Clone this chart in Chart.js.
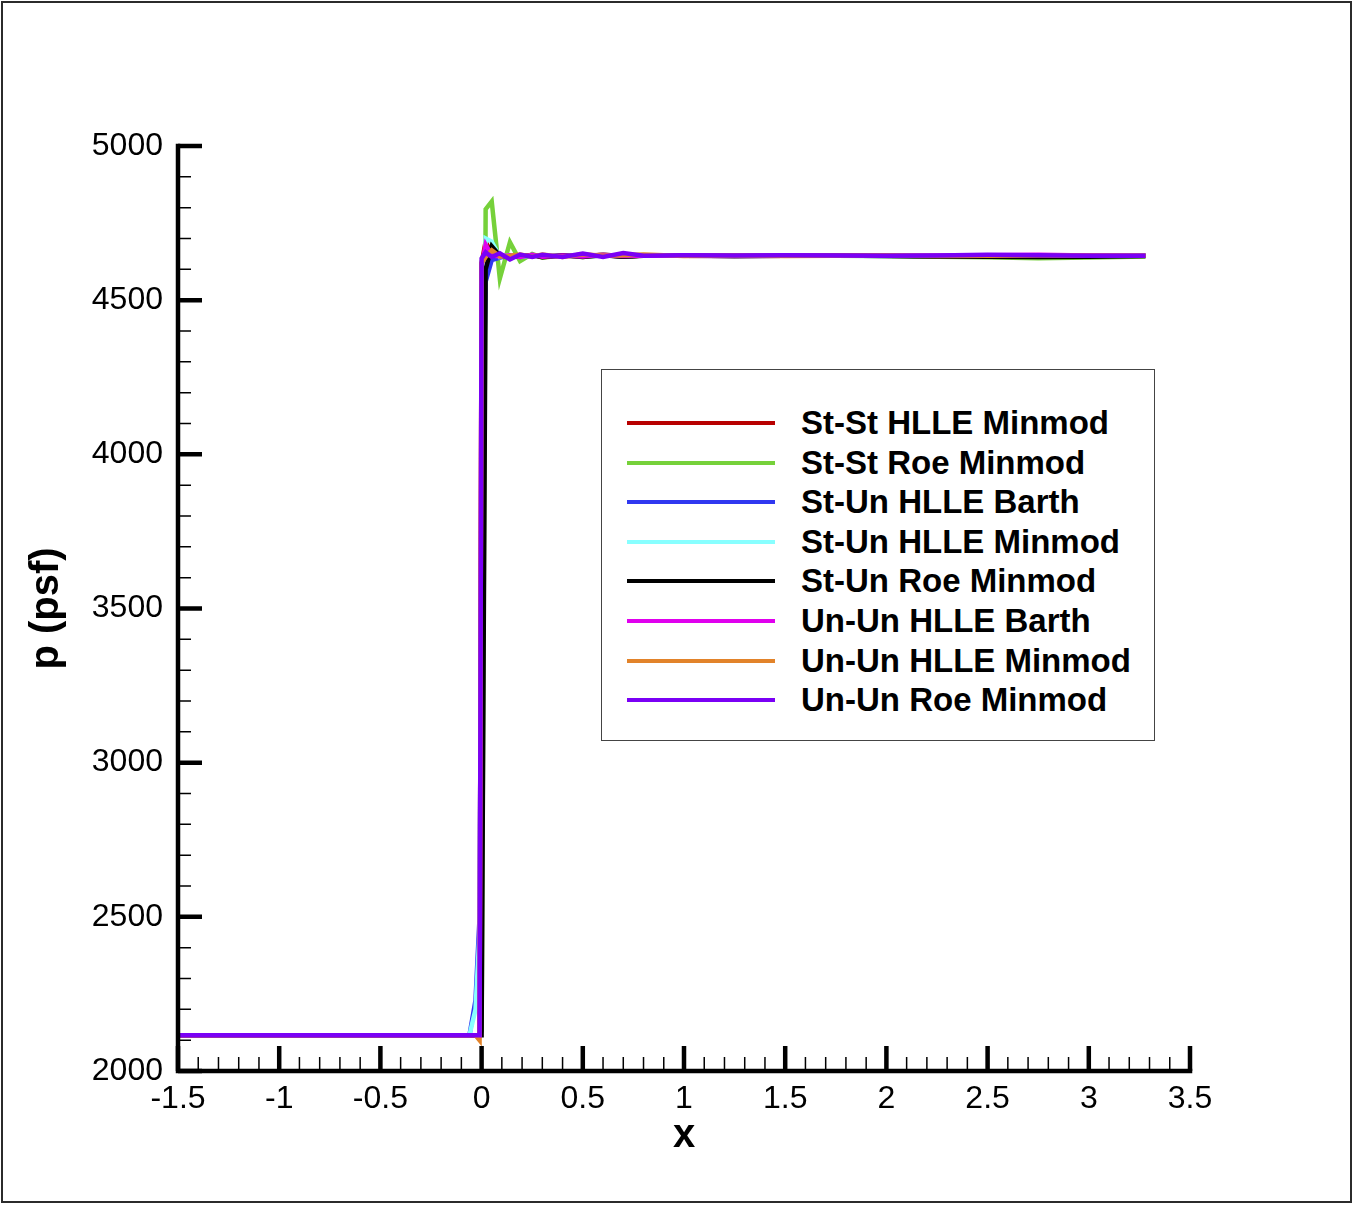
<!DOCTYPE html>
<html>
<head>
<meta charset="utf-8">
<title>p (psf) vs x</title>
<script src="https://cdn.jsdelivr.net/npm/chart.js@4.4.1/dist/chart.umd.min.js"></script>
<style>
  html, body { margin: 0; padding: 0; background: #fff; }
  #lienzo { position: relative; width: 1355px; height: 1205px; }
  #marco {
    position: absolute; left: 1px; top: 1px; width: 1351px; height: 1202px;
    box-sizing: border-box; border: 2px solid #2b2b2b; pointer-events: none;
  }
  #leyenda {
    position: absolute; left: 601px; top: 369px; width: 554px; height: 372px;
    box-sizing: border-box; border: 1px solid #444; background: #fff;
    font-family: "Liberation Sans", Arial, Helvetica, sans-serif;
  }
  .fila { position: absolute; left: 0; height: 40px; display: flex; align-items: center; }
  .trazo { position: absolute; left: 25px; width: 148px; height: 4px; }
  .texto { position: absolute; left: 199px; font-weight: bold; font-size: 33px; color: #000; white-space: nowrap; }
</style>
</head>
<body>
<div id="lienzo">
  <canvas id="grafico" width="1355" height="1205"></canvas>
  <div id="leyenda"></div>
  <div id="marco"></div>
</div>
<script>
// ── Datos ─────────────────────────────────────
const posX = [-1.5, -0.06, -0.03, -0.01, 0, 0.02, 0.05, 0.09, 0.14, 0.19, 0.25, 0.3, 0.4, 0.5,
              0.6, 0.7, 0.8, 1.0, 1.25, 1.5, 1.75, 2.0, 2.25, 2.5, 2.75, 3.0, 3.28]

const stStHlleMinmod = [2116,2116,2116,2116,4620,4690,4648,4640,4645,4642,4646,4641,4645,4643,4647,4641,4645,4644,4643,4644,4645,4644,4643,4645,4646,4644,4644]
const stStRoeMinmod  = [2116,2116,2116,2116,2130,4795,4820,4570,4688,4627,4650,4638,4646,4640,4648,4642,4645,4646,4644,4645,4644,4643,4641,4639,4636,4638,4642]
const stUnHlleBarth  = [2116,2116,2230,2500,3800,4560,4630,4638,4645,4640,4646,4641,4645,4643,4646,4642,4645,4644,4643,4644,4645,4644,4643,4644,4645,4644,4644]
const stUnHlleMinmod = [2116,2116,2200,2450,3900,4700,4690,4640,4646,4641,4645,4642,4646,4642,4645,4643,4645,4644,4644,4645,4644,4643,4644,4645,4644,4643,4644]
const stUnRoeMinmod  = [2116,2116,2116,2116,2116,4600,4675,4644,4640,4643,4646,4639,4646,4640,4646,4641,4644,4645,4643,4644,4645,4643,4642,4641,4640,4641,4643]
const unUnHlleBarth  = [2116,2116,2116,2116,4610,4680,4645,4642,4646,4640,4647,4641,4645,4642,4647,4643,4645,4644,4644,4645,4644,4644,4645,4646,4647,4645,4644]
const unUnHlleMinmod = [2116,2116,2116,2100,4620,4640,4662,4642,4644,4648,4641,4648,4640,4649,4644,4646,4648,4643,4645,4643,4644,4645,4643,4644,4645,4644,4644]
const unUnRoeMinmod  = [2116,2116,2116,2116,4635,4655,4640,4652,4632,4648,4640,4647,4640,4651,4640,4653,4644,4646,4645,4646,4645,4644,4645,4647,4646,4644,4644]

const nombresSeries = ['St-St HLLE Minmod', 'St-St Roe Minmod', 'St-Un HLLE Barth', 'St-Un HLLE Minmod',
                       'St-Un Roe Minmod', 'Un-Un HLLE Barth', 'Un-Un HLLE Minmod', 'Un-Un Roe Minmod']
const valoresSeries = [stStHlleMinmod, stStRoeMinmod, stUnHlleBarth, stUnHlleMinmod,
                       stUnRoeMinmod, unUnHlleBarth, unUnHlleMinmod, unUnRoeMinmod]
const coloresSeries = ['#b80000', '#76d13a', '#3038f0', '#88ffff',
                       '#000000', '#e000ee', '#e2832a', '#7a00f5']

const ticksX = [-1.5, -1, -0.5, 0, 0.5, 1, 1.5, 2, 2.5, 3, 3.5]
const ticksY = [2000, 2500, 3000, 3500, 4000, 4500, 5000]
const PASO_MENOR_X = 0.1
const PASO_MENOR_Y = 100

const FUENTE = '"Liberation Sans", Arial, Helvetica, sans-serif'

// ── Ejes estilo Tecplot (ticks hacia adentro) ─
const ejesTecplot = {
  id: 'ejesTecplot',
  afterDatasetsDraw(chart) {
    const { ctx, chartArea: a, scales: { x, y } } = chart
    ctx.save()
    ctx.strokeStyle = '#000'
    ctx.lineCap = 'butt'

    // menores
    ctx.lineWidth = 1.5
    ctx.beginPath()
    for (let v = x.min; v <= x.max + 1e-9; v += PASO_MENOR_X) {
      const px = x.getPixelForValue(v)
      ctx.moveTo(px, a.bottom); ctx.lineTo(px, a.bottom - 14)
    }
    for (let v = y.min; v <= y.max + 1e-9; v += PASO_MENOR_Y) {
      const py = y.getPixelForValue(v)
      ctx.moveTo(a.left, py); ctx.lineTo(a.left + 13, py)
    }
    ctx.stroke()

    // mayores
    ctx.lineWidth = 4.5
    ctx.beginPath()
    ticksX.forEach(v => {
      const px = x.getPixelForValue(v)
      ctx.moveTo(px, a.bottom); ctx.lineTo(px, a.bottom - 25)
    })
    ticksY.forEach(v => {
      const py = y.getPixelForValue(v)
      ctx.moveTo(a.left, py); ctx.lineTo(a.left + 24, py)
    })
    ctx.stroke()

    // líneas de eje
    ctx.lineCap = 'square'
    ctx.beginPath()
    ctx.moveTo(a.left, a.top)
    ctx.lineTo(a.left, a.bottom)
    ctx.lineTo(a.right, a.bottom)
    ctx.stroke()
    ctx.restore()
  }
}

// ── Gráfico ───────────────────────────────────
const datasets = nombresSeries.map((nombre, i) => ({
  label: nombre,
  data: posX.map((vx, j) => ({ x: vx, y: valoresSeries[i][j] })),
  borderColor: coloresSeries[i],
  backgroundColor: coloresSeries[i],
  borderWidth: 4.5,
  showLine: true,
  pointRadius: 0,
  tension: 0,
  order: nombresSeries.length - 1 - i   // la última serie queda arriba
}))

const grafico = new Chart(document.getElementById('grafico'), {
  type: 'scatter',
  data: { datasets },
  plugins: [ejesTecplot],
  options: {
    responsive: false,
    devicePixelRatio: 1,
    animation: false,
    layout: { padding: { left: 0, right: 165, top: 146, bottom: 0 } },
    plugins: { legend: { display: false }, tooltip: { enabled: false } },
    scales: {
      x: {
        type: 'linear',
        min: -1.5, max: 3.5,
        afterBuildTicks: s => { s.ticks = ticksX.map(v => ({ value: v })) },
        afterFit: s => { s.height = 134 },
        grid: { display: false, drawTicks: false },
        border: { display: false },
        ticks: {
          color: '#000',
          padding: 9,
          maxRotation: 0,
          autoSkip: false,
          font: { family: FUENTE, size: 32 },
          callback: v => String(v)
        },
        title: {
          display: true, text: 'x', color: '#000',
          font: { family: FUENTE, size: 40, weight: 'bold', lineHeight: 1 },
          padding: { top: 0, bottom: 49 }
        }
      },
      y: {
        type: 'linear',
        min: 2000, max: 5000,
        afterBuildTicks: s => { s.ticks = ticksY.map(v => ({ value: v })) },
        afterFit: s => { s.width = 178 },
        grid: { display: false, drawTicks: false },
        border: { display: false },
        ticks: {
          color: '#000',
          padding: 15,
          autoSkip: false,
          font: { family: FUENTE, size: 32 },
          callback: v => String(v)
        },
        title: {
          display: true, text: 'p (psf)', color: '#000',
          font: { family: FUENTE, size: 40, weight: 'bold', lineHeight: 1 },
          padding: { top: 27, bottom: 0 }
        }
      }
    }
  }
})

// ── Leyenda (HTML, desde los datasets) ────────
const leyenda = document.getElementById('leyenda')
grafico.data.datasets.forEach((ds, i) => {
  const fila = document.createElement('div')
  fila.className = 'fila'
  fila.style.top = (33 + i * 39.6) + 'px'
  fila.innerHTML = `<div class="trazo" style="background:${ds.borderColor}"></div>
                    <div class="texto">${ds.label}</div>`
  leyenda.appendChild(fila)
})
</script>
</body>
</html>
